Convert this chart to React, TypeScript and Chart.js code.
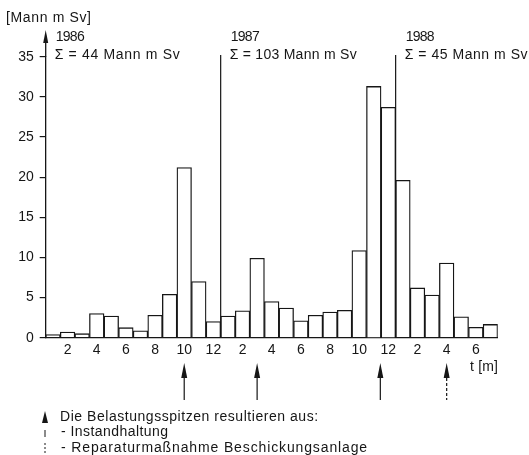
import React, { useEffect, useRef } from "react";
import { Chart, registerables } from "chart.js";

Chart.register(...registerables);

// Monthly collective dose [Mann mSv]
const values1986 = [0.4, 0.7, 0.5, 3.0, 2.7, 1.25, 0.85, 2.8, 5.4, 21.2, 7.0, 2.0];
const values1987 = [2.7, 3.35, 9.9, 4.5, 3.7, 2.1, 2.8, 3.2, 3.4, 10.85, 31.3, 28.7];
const values1988 = [19.6, 6.2, 5.3, 9.3, 2.6, 1.3, 1.65];

const months1986 = ["1", "2", "3", "4", "5", "6", "7", "8", "9", "10", "11", "12"];
const months1987 = ["1", "2", "3", "4", "5", "6", "7", "8", "9", "10", "11", "12"];
const months1988 = ["1", "2", "3", "4", "5", "6", "7"];

const yTicks = [0, 5, 10, 15, 20, 25, 30, 35];

const yearLabels = ["1986", "1987", "1988"];
const yearSums = ["Σ = 44 Mann m Sv", "Σ = 103 Mann m Sv", "Σ = 45 Mann m Sv"];

// peaks (category positions) and their cause: solid = Instandhaltung, dashed = Reparatur
const peakPositions = [9, 14, 22.45, 27];
const peakKinds = ["solid", "solid", "solid", "dashed"];

const legendLines = [
  "Die Belastungsspitzen resultieren aus:",
  "- Instandhaltung",
  "- Reparaturmaßnahme Beschickungsanlage",
];

const FAMILY = '"Liberation Sans", Arial, sans-serif';
const INK = "#161616";

const labels = [...months1986, ...months1987, ...months1988];
const values = [...values1986, ...values1987, ...values1988];

function fitText(ctx: CanvasRenderingContext2D, text: string, x: number, y: number, target?: number) {
  ctx.save();
  (ctx as any).letterSpacing = "0px";
  if (target) {
    const w = ctx.measureText(text).width;
    const ls = (target - w) / Math.max(1, text.length - 1);
    (ctx as any).letterSpacing = ls.toFixed(2) + "px";
  }
  ctx.fillText(text, x, y);
  ctx.restore();
}

function arrow(ctx: CanvasRenderingContext2D, x: number, tip: number, headEnd: number, bottom: number, dashed: boolean) {
  ctx.save();
  ctx.fillStyle = INK;
  ctx.strokeStyle = INK;
  ctx.beginPath();
  ctx.moveTo(x, tip);
  ctx.lineTo(x - 3, headEnd);
  ctx.lineTo(x + 3, headEnd);
  ctx.closePath();
  ctx.fill();
  ctx.lineWidth = 1.2;
  if (dashed) ctx.setLineDash([3, 2]);
  ctx.beginPath();
  ctx.moveTo(x, headEnd);
  ctx.lineTo(x, bottom);
  ctx.stroke();
  ctx.restore();
}

const yearSumWidths = [125, 127, 123];
const legendWidths = [258, 107, 306];

const annotations = {
  id: "annotations",
  afterDraw(chart: any) {
    const ctx: CanvasRenderingContext2D = chart.ctx;
    const x = chart.scales.x;
    const area = chart.chartArea;
    ctx.save();
    ctx.fillStyle = INK;
    ctx.strokeStyle = INK;
    ctx.textBaseline = "middle";
    ctx.textAlign = "left";

    // y-axis extension with arrow
    ctx.lineWidth = 1.3;
    ctx.beginPath();
    ctx.moveTo(area.left, area.top);
    ctx.lineTo(area.left, 40);
    ctx.stroke();
    ctx.beginPath();
    ctx.moveTo(area.left, 30);
    ctx.lineTo(area.left - 2.5, 43);
    ctx.lineTo(area.left + 2.5, 43);
    ctx.closePath();
    ctx.fill();

    // axis title
    ctx.font = `14px ${FAMILY}`;
    fitText(ctx, "[Mann m Sv]", 6, 18, 85);

    // year separators and labels
    const n1 = months1986.length;
    const n2 = months1987.length;
    const half = (x.getPixelForValue(1) - x.getPixelForValue(0)) / 2;
    const bounds = [area.left, x.getPixelForValue(n1) - half, x.getPixelForValue(n1 + n2) - half];
    bounds.forEach((bx, i) => {
      if (i > 0) {
        ctx.lineWidth = 1.2;
        ctx.beginPath();
        ctx.moveTo(bx, 55);
        ctx.lineTo(bx, area.bottom);
        ctx.stroke();
      }
      const tx = bx + 10;
      ctx.font = `14px ${FAMILY}`;
      fitText(ctx, yearLabels[i], tx, 37, 29);
      fitText(ctx, yearSums[i], tx - 1, 55, yearSumWidths[i]);
    });

    // t [m]
    ctx.font = `14px ${FAMILY}`;
    fitText(ctx, "t [m]", 470, 367, 28);

    // peak arrows
    peakPositions.forEach((p, i) => {
      const px = x.getPixelForValue(Math.floor(p)) + (p - Math.floor(p)) * half * 2;
      arrow(ctx, px, 363, 378, 400, peakKinds[i] === "dashed");
    });

    // legend
    ctx.beginPath();
    ctx.moveTo(45, 411);
    ctx.lineTo(42, 423);
    ctx.lineTo(48, 423);
    ctx.closePath();
    ctx.fill();
    ctx.lineWidth = 1;
    ctx.beginPath();
    ctx.moveTo(45, 430);
    ctx.lineTo(45, 437);
    ctx.stroke();
    ctx.setLineDash([2, 2]);
    ctx.beginPath();
    ctx.moveTo(45, 443);
    ctx.lineTo(45, 453);
    ctx.stroke();
    ctx.setLineDash([]);
    ctx.font = `14px ${FAMILY}`;
    legendLines.forEach((t, i) => {
      fitText(ctx, t, i === 0 ? 60 : 61, 417 + i * 15.5, legendWidths[i]);
    });
    ctx.restore();
  },
};

export default function App() {
  const ref = useRef<HTMLCanvasElement | null>(null);
  useEffect(() => {
    if (!ref.current) return;
    const chart = new Chart(ref.current, {
      type: "bar",
      data: {
        labels,
        datasets: [
          {
            data: values,
            backgroundColor: "#ffffff",
            borderColor: INK,
            borderWidth: 1.3,
            barPercentage: 1,
            categoryPercentage: 1,
          },
        ],
      },
      options: {
        responsive: false,
        animation: false,
        devicePixelRatio: 1,
        layout: { padding: { top: 56.7, left: 0, right: 31.3, bottom: 0 } },
        plugins: { legend: { display: false }, tooltip: { enabled: false } },
        scales: {
          x: {
            type: "category",
            grid: { display: false, drawTicks: false, tickLength: 0 },
            border: { display: true, color: INK, width: 1.3 },
            ticks: {
              autoSkip: false,
              maxRotation: 0,
              padding: 4,
              color: INK,
              font: { family: FAMILY, size: 14 },
              callback: (_v: any, i: number) => (i % 2 === 1 ? labels[i] : ""),
            },
            afterFit: (s: any) => {
              s.height = 117.3;
            },
          },
          y: {
            min: 0,
            max: 35,
            grid: { display: true, drawOnChartArea: false, drawTicks: true, tickLength: 6, color: INK, lineWidth: 1.2 },
            border: { display: true, color: INK, width: 1.3 },
            afterBuildTicks: (s: any) => {
              s.ticks = yTicks.map((v) => ({ value: v }));
            },
            ticks: {
              padding: 6,
              color: INK,
              font: { family: FAMILY, size: 14 },
            },
            afterFit: (s: any) => {
              s.width = 45.7;
            },
          },
        },
      },
      plugins: [annotations],
    });
    return () => chart.destroy();
  }, []);
  return (
    <div style={{ position: "fixed", left: 0, top: 0, width: 529, height: 455, background: "#fff" }}>
      <canvas ref={ref} width={529} height={455} style={{ display: "block" }} />
    </div>
  );
}
